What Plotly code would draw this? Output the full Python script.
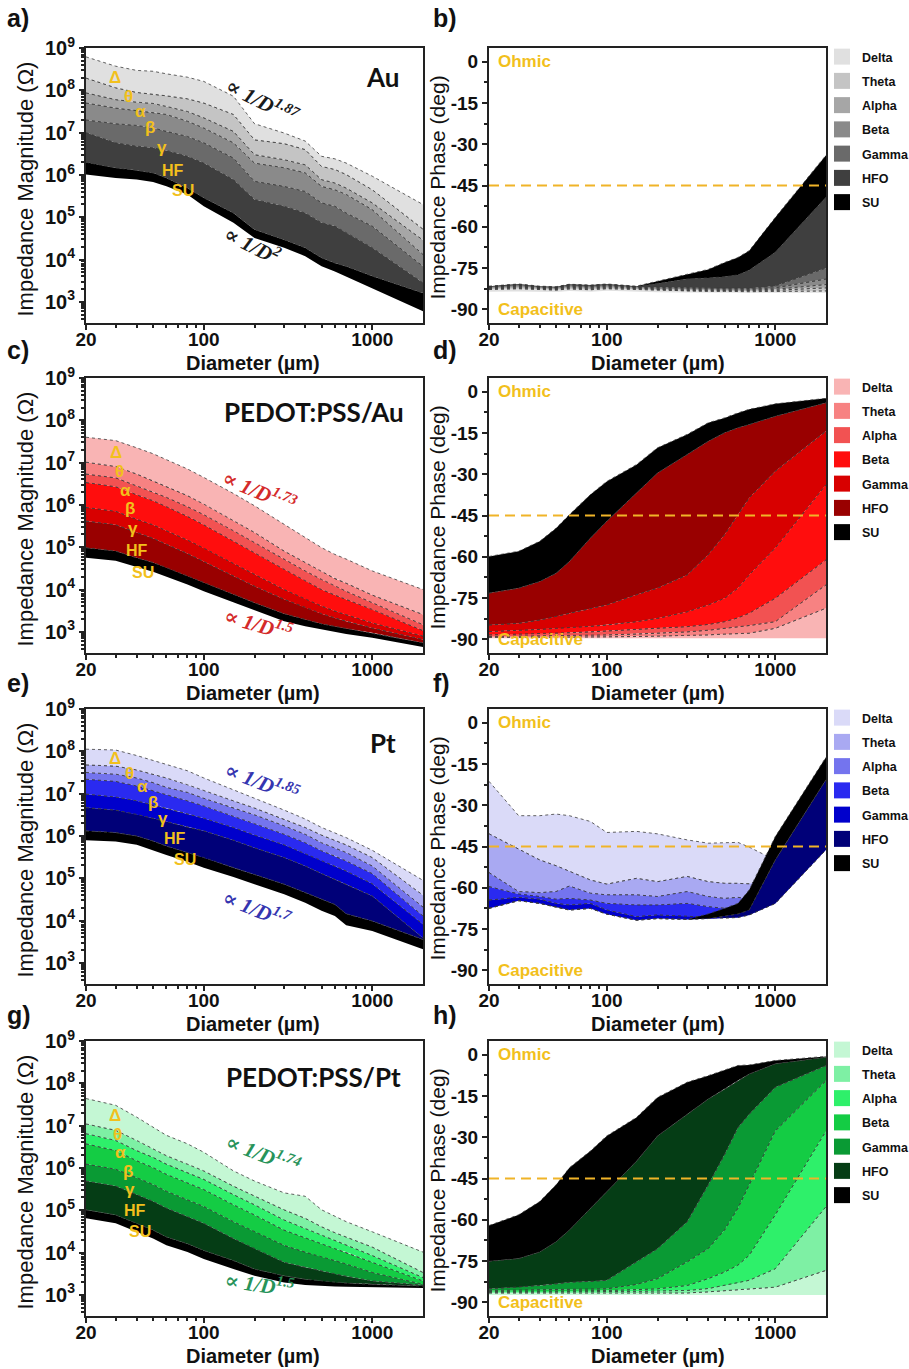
import numpy as np
import plotly.graph_objects as go

FIG_W, FIG_H = 909, 1369

# ---------------------------------------------------------------- data
diameter_um = [20, 30, 40, 50, 60, 80, 100, 150, 200, 300, 400, 500, 600, 700, 1000, 2000]
band_names = ["Delta", "Theta", "Alpha", "Beta", "Gamma", "HFO", "SU"]
band_tags = ["Δ", "θ", "α", "β", "γ", "HF", "SU"]

# Au : log10 |Z| (Ω)
au_logz_delta = [8.79, 8.57, 8.47, 8.45, 8.39, 8.31, 8.21, 7.86, 7.21, 6.99, 6.80, 6.44, 6.38, 6.28, 5.97, 5.30]
au_logz_theta = [8.29, 8.06, 7.95, 7.91, 7.87, 7.80, 7.70, 7.43, 6.83, 6.74, 6.60, 6.20, 6.13, 6.01, 5.65, 4.72]
au_logz_alpha = [7.94, 7.78, 7.72, 7.69, 7.62, 7.50, 7.35, 7.03, 6.48, 6.36, 6.24, 5.89, 5.81, 5.69, 5.34, 4.46]
au_logz_beta = [7.70, 7.58, 7.52, 7.48, 7.43, 7.27, 7.11, 6.76, 6.28, 6.17, 6.05, 5.73, 5.65, 5.54, 5.18, 4.12]
au_logz_gamma = [7.30, 7.21, 7.17, 7.11, 7.03, 6.91, 6.76, 6.40, 5.85, 5.73, 5.61, 5.34, 5.26, 5.10, 4.79, 3.84]
au_logz_hfo = [7.00, 6.76, 6.68, 6.64, 6.58, 6.44, 6.28, 5.89, 5.42, 5.26, 5.10, 4.87, 4.79, 4.63, 4.28, 3.45]
au_logz_su = [6.30, 6.17, 6.11, 6.05, 5.93, 5.69, 5.46, 5.10, 4.71, 4.47, 4.28, 4.04, 3.92, 3.84, 3.61, 3.21]
au_logz_base = [6.01, 5.93, 5.89, 5.83, 5.73, 5.54, 5.26, 4.87, 4.51, 4.28, 4.08, 3.84, 3.72, 3.60, 3.33, 2.78]

# Au : phase (deg)
au_phase_su = [-81.6, -80.8, -81.6, -81.8, -80.9, -81.2, -80.8, -81.6, -79.8, -77.3, -75.5, -73.0, -71.2, -68.7, -56.6, -34.0]
au_phase_hfo = [-81.8, -81.0, -81.8, -82.0, -81.1, -81.4, -81.0, -81.8, -80.6, -79.0, -78.6, -78.2, -77.5, -75.8, -69.3, -49.3]
au_phase_gamma = [-82.0, -81.3, -82.0, -82.2, -81.4, -81.7, -81.3, -82.0, -82.0, -82.2, -82.3, -82.3, -82.4, -82.4, -81.5, -75.0]
au_phase_beta = [-82.2, -81.6, -82.2, -82.4, -81.7, -82.0, -81.6, -82.2, -82.3, -82.5, -82.6, -82.6, -82.7, -82.7, -82.2, -79.0]
au_phase_alpha = [-82.4, -81.9, -82.4, -82.6, -82.0, -82.3, -81.9, -82.4, -82.6, -82.8, -82.9, -82.9, -83.0, -83.0, -82.7, -81.0]
au_phase_theta = [-82.6, -82.2, -82.6, -82.8, -82.3, -82.6, -82.2, -82.6, -82.9, -83.1, -83.2, -83.2, -83.3, -83.3, -83.1, -82.2]
au_phase_delta = [-82.8, -82.5, -82.8, -83.0, -82.6, -82.9, -82.5, -82.8, -83.2, -83.4, -83.5, -83.5, -83.6, -83.6, -83.5, -83.3]
au_phase_base = [-83.6, -83.5, -83.6, -83.7, -83.4, -83.6, -83.3, -83.5, -83.8, -83.9, -84.0, -84.0, -84.1, -84.1, -84.0, -84.0]

# PEDOT:PSS/Au : log10 |Z| (Ω)
pau_logz_delta = [7.60, 7.52, 7.35, 7.21, 7.07, 6.85, 6.65, 6.27, 5.98, 5.53, 5.23, 4.99, 4.83, 4.72, 4.44, 4.00]
pau_logz_theta = [7.01, 6.91, 6.73, 6.57, 6.44, 6.22, 6.02, 5.62, 5.35, 4.91, 4.64, 4.42, 4.26, 4.15, 3.87, 3.41]
pau_logz_alpha = [6.73, 6.64, 6.45, 6.31, 6.18, 5.96, 5.77, 5.39, 5.11, 4.72, 4.44, 4.24, 4.08, 3.96, 3.69, 3.17]
pau_logz_beta = [6.53, 6.43, 6.24, 6.10, 5.96, 5.73, 5.53, 5.15, 4.87, 4.48, 4.20, 4.00, 3.87, 3.77, 3.53, 3.03]
pau_logz_gamma = [5.94, 5.85, 5.66, 5.53, 5.39, 5.17, 4.98, 4.61, 4.36, 4.00, 3.77, 3.61, 3.49, 3.40, 3.21, 2.90]
pau_logz_hfo = [5.62, 5.53, 5.35, 5.21, 5.07, 4.85, 4.66, 4.32, 4.08, 3.77, 3.57, 3.43, 3.33, 3.25, 3.09, 2.82]
pau_logz_su = [4.99, 4.91, 4.75, 4.64, 4.52, 4.32, 4.16, 3.89, 3.69, 3.43, 3.29, 3.19, 3.13, 3.08, 2.98, 2.74]
pau_logz_base = [4.75, 4.68, 4.53, 4.42, 4.30, 4.12, 3.96, 3.69, 3.51, 3.25, 3.13, 3.05, 3.00, 2.95, 2.86, 2.64]

# PEDOT:PSS/Au : phase (deg)
pau_phase_su = [-59.9, -58.0, -54.4, -49.6, -44.7, -37.4, -32.6, -26.5, -20.4, -15.5, -11.3, -9.5, -7.7, -6.4, -4.4, -2.4]
pau_phase_hfo = [-73.2, -71.4, -69.0, -66.0, -61.7, -53.2, -47.1, -36.8, -29.5, -22.8, -18.0, -14.9, -13.1, -11.9, -8.9, -4.0]
pau_phase_gamma = [-84.8, -84.2, -83.0, -81.7, -80.5, -78.7, -77.5, -73.8, -71.4, -66.6, -59.3, -52.0, -44.7, -38.6, -28.9, -14.3]
pau_phase_beta = [-87.2, -86.8, -86.4, -86.0, -85.8, -85.3, -84.8, -83.6, -82.4, -80.0, -77.5, -75.1, -71.4, -66.6, -56.8, -33.8]
pau_phase_alpha = [-88.4, -88.2, -88.0, -87.8, -87.6, -87.3, -87.0, -86.4, -86.0, -85.4, -84.6, -83.6, -82.2, -80.5, -75.1, -61.1]
pau_phase_theta = [-89.0, -88.9, -88.8, -88.7, -88.6, -88.5, -88.4, -88.1, -87.8, -87.3, -86.7, -86.0, -85.5, -85.0, -83.6, -70.2]
pau_phase_delta = [-89.3, -89.3, -89.2, -89.2, -89.2, -89.1, -89.1, -89.0, -88.9, -88.7, -88.4, -88.1, -87.9, -87.8, -86.0, -78.7]
pau_phase_base = [-89.6, -89.6, -89.6, -89.6, -89.6, -89.6, -89.6, -89.6, -89.6, -89.6, -89.6, -89.6, -89.6, -89.6, -89.6, -89.6]

# Pt : log10 |Z| (Ω)
pt_logz_delta = [8.05, 8.03, 7.90, 7.78, 7.70, 7.54, 7.37, 7.08, 6.89, 6.61, 6.40, 6.20, 6.08, 5.96, 5.66, 4.95]
pt_logz_theta = [7.68, 7.65, 7.56, 7.46, 7.37, 7.21, 7.07, 6.83, 6.66, 6.40, 6.20, 6.02, 5.90, 5.79, 5.49, 4.60]
pt_logz_alpha = [7.50, 7.46, 7.37, 7.26, 7.15, 7.03, 6.89, 6.67, 6.50, 6.24, 6.04, 5.84, 5.72, 5.61, 5.29, 4.32]
pt_logz_beta = [7.34, 7.29, 7.18, 7.07, 6.97, 6.83, 6.71, 6.47, 6.29, 6.04, 5.84, 5.65, 5.53, 5.41, 5.11, 4.11]
pt_logz_gamma = [6.99, 6.92, 6.83, 6.73, 6.66, 6.53, 6.42, 6.20, 6.02, 5.79, 5.58, 5.41, 5.29, 5.17, 4.87, 3.91]
pt_logz_hfo = [6.67, 6.61, 6.51, 6.42, 6.34, 6.21, 6.12, 5.90, 5.72, 5.49, 5.29, 5.11, 4.97, 4.86, 4.58, 3.59]
pt_logz_su = [6.12, 6.08, 6.00, 5.88, 5.76, 5.61, 5.49, 5.25, 5.09, 4.86, 4.66, 4.50, 4.38, 4.16, 3.99, 3.55]
pt_logz_base = [5.90, 5.87, 5.79, 5.66, 5.55, 5.39, 5.25, 5.03, 4.86, 4.62, 4.42, 4.23, 4.11, 3.89, 3.75, 3.32]

# Pt : phase (deg)
pt_phase_su = [-67.5, -64.7, -65.7, -66.9, -68.1, -67.5, -69.6, -71.8, -71.2, -71.5, -69.5, -67.5, -65.7, -60.8, -41.4, -12.5]
pt_phase_hfo = [-67.5, -64.7, -65.7, -66.9, -68.1, -67.5, -69.6, -71.8, -71.2, -71.5, -71.2, -70.3, -69.5, -68.1, -49.9, -20.7]
pt_phase_gamma = [-64.5, -63.5, -64.2, -65.7, -66.3, -65.7, -68.1, -70.5, -69.9, -70.5, -70.8, -71.0, -70.8, -69.9, -65.7, -46.2]
pt_phase_beta = [-59.6, -62.3, -63.2, -64.2, -63.9, -64.5, -65.7, -66.3, -66.3, -65.7, -66.9, -67.5, -67.5, -67.8, -61.0, -42.0]
pt_phase_alpha = [-54.5, -61.4, -61.8, -61.4, -59.4, -62.0, -62.6, -62.6, -63.2, -61.4, -63.2, -63.9, -63.5, -64.0, -58.0, -38.0]
pt_phase_theta = [-40.4, -46.0, -49.9, -52.0, -54.1, -57.2, -58.7, -56.6, -57.8, -55.9, -57.8, -58.4, -58.4, -58.6, -55.0, -35.0]
pt_phase_delta = [-21.3, -33.8, -33.8, -33.2, -33.8, -35.9, -39.9, -39.5, -40.4, -42.6, -43.8, -43.5, -43.5, -45.2, -50.0, -30.0]
pt_phase_base = None

# PEDOT:PSS/Pt : log10 |Z| (Ω)
ppt_logz_delta = [7.64, 7.48, 7.20, 6.96, 6.77, 6.57, 6.37, 5.93, 5.69, 5.41, 5.33, 5.01, 4.85, 4.73, 4.49, 4.01]
ppt_logz_theta = [7.04, 6.89, 6.65, 6.45, 6.29, 6.09, 5.93, 5.57, 5.33, 5.01, 4.81, 4.61, 4.47, 4.37, 4.13, 3.53]
ppt_logz_alpha = [6.81, 6.65, 6.41, 6.25, 6.09, 5.89, 5.73, 5.37, 5.13, 4.77, 4.57, 4.41, 4.29, 4.19, 3.93, 3.41]
ppt_logz_beta = [6.57, 6.41, 6.17, 6.01, 5.85, 5.65, 5.49, 5.13, 4.89, 4.53, 4.35, 4.21, 4.09, 4.01, 3.77, 3.33]
ppt_logz_gamma = [6.09, 5.97, 5.77, 5.61, 5.45, 5.25, 5.09, 4.73, 4.49, 4.17, 4.01, 3.89, 3.81, 3.73, 3.53, 3.25]
ppt_logz_hfo = [5.69, 5.57, 5.37, 5.21, 5.05, 4.85, 4.69, 4.33, 4.09, 3.77, 3.65, 3.57, 3.49, 3.44, 3.33, 3.23]
ppt_logz_su = [5.01, 4.89, 4.69, 4.53, 4.37, 4.21, 4.05, 3.81, 3.61, 3.45, 3.37, 3.33, 3.29, 3.28, 3.25, 3.21]
ppt_logz_base = [4.81, 4.69, 4.49, 4.33, 4.17, 4.01, 3.85, 3.61, 3.45, 3.29, 3.23, 3.21, 3.20, 3.19, 3.17, 3.16]

# PEDOT:PSS/Pt : phase (deg)
ppt_phase_su = [-62.1, -58.2, -53.4, -47.3, -41.1, -35.0, -29.5, -22.8, -15.5, -10.0, -7.6, -5.5, -3.9, -3.7, -2.1, -0.6]
ppt_phase_hfo = [-75.1, -74.1, -71.7, -68.0, -63.7, -55.8, -49.7, -38.7, -29.5, -21.6, -16.1, -12.5, -9.4, -7.0, -3.3, -0.9]
ppt_phase_gamma = [-85.1, -84.5, -83.9, -83.3, -82.7, -82.4, -82.0, -75.3, -70.5, -60.7, -47.3, -36.3, -26.5, -21.6, -11.8, -3.9]
ppt_phase_beta = [-85.7, -85.6, -85.5, -85.4, -85.3, -85.2, -85.1, -83.5, -81.4, -75.3, -70.5, -63.7, -55.8, -47.3, -27.7, -9.4]
ppt_phase_alpha = [-86.1, -86.0, -86.0, -85.9, -85.9, -85.8, -85.7, -85.4, -85.1, -83.9, -81.4, -79.0, -76.5, -72.9, -58.2, -27.7]
ppt_phase_theta = [-86.3, -86.3, -86.3, -86.2, -86.2, -86.2, -86.1, -86.0, -85.9, -85.7, -85.0, -83.9, -83.0, -82.0, -77.8, -55.2]
ppt_phase_delta = [-86.6, -86.6, -86.6, -86.6, -86.6, -86.6, -86.6, -86.6, -86.6, -86.6, -86.2, -85.8, -85.5, -85.1, -84.5, -78.4]
ppt_phase_base = [-87.4, -87.4, -87.4, -87.4, -87.4, -87.4, -87.4, -87.4, -87.4, -87.4, -87.4, -87.4, -87.4, -87.4, -87.4, -87.4]

PHASE_THRESHOLD = -45
phase_ticks = [0, -15, -30, -45, -60, -75, -90]

# band palettes, Delta -> SU
grey_colors = ["#e0e0e0", "#c4c4c4", "#a6a6a6", "#8a8a8a", "#6a6a6a", "#3f3f3f", "#000000"]
red_colors = ["#f9b4b4", "#f78282", "#f25252", "#ff0d0d", "#d80000", "#990000", "#000000"]
blue_colors = ["#dadaf8", "#a9a9f2", "#7474ee", "#2a2af0", "#0000cc", "#000078", "#000000"]
green_colors = ["#c4f7d4", "#7ef0a4", "#2ef06a", "#14cc44", "#0a9a34", "#053d15", "#000000"]

rows = [
    dict(sample="Au", colors=grey_colors, slope_color="#1a1a1a", slope_hi="1.87", slope_lo="2",
         logz=[au_logz_delta, au_logz_theta, au_logz_alpha, au_logz_beta, au_logz_gamma, au_logz_hfo, au_logz_su],
         logz_base=au_logz_base,
         phase=[au_phase_delta, au_phase_theta, au_phase_alpha, au_phase_beta, au_phase_gamma, au_phase_hfo, au_phase_su],
         phase_base=au_phase_base),
    dict(sample="PEDOT:PSS/Au", colors=red_colors, slope_color="#d42a2a", slope_hi="1.73", slope_lo="1.5",
         logz=[pau_logz_delta, pau_logz_theta, pau_logz_alpha, pau_logz_beta, pau_logz_gamma, pau_logz_hfo, pau_logz_su],
         logz_base=pau_logz_base,
         phase=[pau_phase_delta, pau_phase_theta, pau_phase_alpha, pau_phase_beta, pau_phase_gamma, pau_phase_hfo, pau_phase_su],
         phase_base=pau_phase_base),
    dict(sample="Pt", colors=blue_colors, slope_color="#3535b0", slope_hi="1.85", slope_lo="1.7",
         logz=[pt_logz_delta, pt_logz_theta, pt_logz_alpha, pt_logz_beta, pt_logz_gamma, pt_logz_hfo, pt_logz_su],
         logz_base=pt_logz_base,
         phase=[pt_phase_delta, pt_phase_theta, pt_phase_alpha, pt_phase_beta, pt_phase_gamma, pt_phase_hfo, pt_phase_su],
         phase_base=pt_phase_base),
    dict(sample="PEDOT:PSS/Pt", colors=green_colors, slope_color="#27935a", slope_hi="1.74", slope_lo="1.5",
         logz=[ppt_logz_delta, ppt_logz_theta, ppt_logz_alpha, ppt_logz_beta, ppt_logz_gamma, ppt_logz_hfo, ppt_logz_su],
         logz_base=ppt_logz_base,
         phase=[ppt_phase_delta, ppt_phase_theta, ppt_phase_alpha, ppt_phase_beta, ppt_phase_gamma, ppt_phase_hfo, ppt_phase_su],
         phase_base=ppt_phase_base),
]

# ---------------------------------------------------------------- page geometry (px)
PLOT_TOP = [48, 378, 709, 1041]
PLOT_H = 275
MAG_X = (86, 423)
PH_X = (489, 826)
PANEL_LABEL_Y = [18, 350, 683, 1015]
SAMPLE_POS = [(382, 77), (314, 412), (383, 743), (313, 1077)]
SLOPE_HI_POS = [(262, 100, 27), (259, 491, 23), (262, 781, 21), (263, 1153, 21)]
SLOPE_LO_POS = [(252, 245, 27), (258, 623, 16), (257, 908, 22), (259, 1283, 8)]
TAG_POS = [
    [(115, 77), (128, 97), (140, 111), (150, 128), (162, 147), (173, 170), (183, 190)],
    [(116, 452), (119, 472), (125, 491), (130, 509), (133, 528), (137, 551), (143, 572)],
    [(115, 758), (129, 773), (142, 786), (153, 802), (163, 818), (175, 838), (185, 859)],
    [(115, 1115), (117, 1134), (121, 1152), (128, 1171), (130, 1189), (135, 1210), (140, 1231)],
]

GOLD = "#f2c01c"
INK = "#111111"
SANS = "Liberation Sans, Arial, sans-serif"


def px_x(p):
    return p / FIG_W


def px_y(p):
    return 1 - p / FIG_H


def axis_key(kind, i):
    return kind + ("" if i == 1 else str(i))


def axis_ref(kind, i):
    return kind[0] + ("" if i == 1 else str(i))


fig = go.Figure()
D = np.array(diameter_um, dtype=float)
x_poly = np.concatenate([D, D[::-1]])


def add_bands(curves, base, colors, to_y, xr, yr):
    """Fill between neighbouring curves (highest first) with the colour of
    whichever curve lies above; the last curve closes onto `base`."""
    levels = [np.asarray(c, dtype=float) for c in curves]
    pairs = [(levels[k], levels[k + 1], colors[k], colors[k + 1], True) for k in range(len(levels) - 1)]
    if base is not None:
        pairs.append((levels[-1], np.asarray(base, dtype=float), colors[-1], colors[-1], False))
    for hi, lo, c_hi, c_lo, lo_is_curve in reversed(pairs):
        inner = np.minimum(hi, lo)
        for edge, col in ((hi, c_hi), (lo, c_lo)):
            if not np.any(edge > inner + 1e-9):
                continue
            fig.add_trace(go.Scatter(
                x=x_poly, y=to_y(np.concatenate([edge, inner[::-1]])),
                mode="lines", fill="toself", fillcolor=col, line=dict(width=0),
                hoverinfo="skip", showlegend=False, xaxis=xr, yaxis=yr))
        edges = [hi, lo] if lo_is_curve else [hi]
        for edge in edges:
            fig.add_trace(go.Scatter(
                x=D, y=to_y(edge), mode="lines",
                line=dict(color="#3a3a3a", width=0.8, dash="dot"),
                hoverinfo="skip", showlegend=False, xaxis=xr, yaxis=yr))


layout = dict(
    width=FIG_W, height=FIG_H, margin=dict(l=0, r=0, t=0, b=0, autoexpand=False),
    paper_bgcolor="white", plot_bgcolor="white",
    font=dict(family=SANS, color=INK),
    showlegend=True,
)
annotations = []
shapes = []

common_axis = dict(showline=True, linecolor="#222222", linewidth=2, mirror=True,
                   ticks="outside", ticklen=5, tickwidth=1.5, tickcolor="#222222",
                   showgrid=False, zeroline=False, automargin=False)
x_minor = [30, 40, 50, 60, 70, 80, 90, 200, 300, 400, 500, 600, 700, 800, 900]
y_minor = [m * 10.0 ** e for e in range(2, 9) for m in range(2, 10) if 10 ** 2.5 <= m * 10.0 ** e <= 1e9]


def text_note(text, x, y, size, weight="normal", color=INK, angle=0, family=SANS,
              xanchor="center", yanchor="middle", style="normal"):
    annotations.append(dict(
        text=text, x=px_x(x), y=px_y(y), xref="paper", yref="paper",
        xanchor=xanchor, yanchor=yanchor, showarrow=False, textangle=angle,
        font=dict(family=family, size=size, weight=weight, color=color, style=style)))


for r, row in enumerate(rows):
    i_mag, i_ph = 2 * r + 1, 2 * r + 2
    top = PLOT_TOP[r]
    bottom = top + PLOT_H
    y_dom = [px_y(bottom), px_y(top)]
    colors = row["colors"]

    # ---- |Z| panel
    add_bands(row["logz"], row["logz_base"], colors, lambda v: 10.0 ** v,
              axis_ref("x", i_mag), axis_ref("y", i_mag))
    # ---- phase panel (SU on top, Delta at the bottom)
    add_bands(row["phase"][::-1], row["phase_base"], colors[::-1], lambda v: v,
              axis_ref("x", i_ph), axis_ref("y", i_ph))

    legend_id = "legend" if r == 0 else f"legend{r + 1}"
    for name, col in zip(band_names, colors):
        fig.add_trace(go.Scatter(
            x=[None], y=[None], mode="markers", name=name,
            marker=dict(symbol="square", size=16, color=col, line=dict(width=0)),
            legend=legend_id, legendgroup=f"{r}-{name}",
            xaxis=axis_ref("x", i_ph), yaxis=axis_ref("y", i_ph)))
    layout[legend_id] = dict(
        x=px_x(822), xanchor="left", y=px_y(top - 6), yanchor="top",
        bgcolor="rgba(0,0,0,0)", tracegroupgap=5, itemwidth=30,
        font=dict(family=SANS, size=12.5, weight="bold", color=INK))

    x_common = dict(common_axis, type="log", range=[np.log10(20), np.log10(2000)],
                    tickvals=[20, 100, 1000], ticktext=["20", "100", "1000"],
                    ticklabelstandoff=-7,
                    tickfont=dict(family=SANS, size=19, weight="bold", color=INK),
                    minor=dict(tickvals=x_minor, ticks="outside", ticklen=3, tickcolor="#222222"))
    layout[axis_key("xaxis", i_mag)] = dict(x_common, domain=[px_x(MAG_X[0]), px_x(MAG_X[1])],
                                            anchor=axis_ref("y", i_mag))
    layout[axis_key("xaxis", i_ph)] = dict(x_common, domain=[px_x(PH_X[0]), px_x(PH_X[1])],
                                           anchor=axis_ref("y", i_ph))

    layout[axis_key("yaxis", i_mag)] = dict(
        common_axis, type="log", range=[2.5, 9], domain=y_dom, anchor=axis_ref("x", i_mag),
        tickvals=[10.0 ** e for e in range(3, 10)],
        ticktext=[f"10<sup>{e}</sup>" for e in range(3, 10)],
        tickfont=dict(family=SANS, size=20, weight="bold", color=INK),
        minor=dict(tickvals=y_minor, ticks="outside", ticklen=3, tickcolor="#222222"))
    layout[axis_key("yaxis", i_ph)] = dict(
        common_axis, range=[-95, 5], domain=y_dom, anchor=axis_ref("x", i_ph),
        tickvals=phase_ticks, ticktext=[str(t) for t in phase_ticks],
        tickfont=dict(family=SANS, size=19, weight="bold", color=INK),
        minor=dict(dtick=7.5, tick0=0, ticks="outside", ticklen=3, tickcolor="#222222"))

    # axis titles
    mid_y = top + PLOT_H / 2
    text_note("Impedance Magnitude (Ω)", 25, mid_y + 4, 22, angle=-90)
    text_note("Impedance Phase (deg)", 437, mid_y + 2, 21, angle=-90)
    text_note("Diameter (µm)", (MAG_X[0] + MAG_X[1]) / 2 - 2, bottom + 40, 20, weight="bold")
    text_note("Diameter (µm)", (PH_X[0] + PH_X[1]) / 2, bottom + 40, 20, weight="bold")

    # -45° reference line
    shapes.append(dict(type="line", xref=f"{axis_ref('x', i_ph)} domain", x0=0, x1=1,
                       yref=axis_ref("y", i_ph), y0=PHASE_THRESHOLD, y1=PHASE_THRESHOLD,
                       line=dict(color="#f0b428", width=2, dash="10px,6px")))
    for txt, yv in (("Ohmic", 0), ("Capacitive", -90)):
        annotations.append(dict(text=txt, xref=f"{axis_ref('x', i_ph)} domain", x=0.02,
                                yref=axis_ref("y", i_ph), y=yv, xanchor="left", yanchor="middle",
                                showarrow=False,
                                font=dict(family=SANS, size=17, weight="bold", color=GOLD)))

    # panel letters
    letters = "abcdefgh"
    text_note(f"{letters[2 * r]})", 5, PANEL_LABEL_Y[r], 25, weight="bold", xanchor="left")
    text_note(f"{letters[2 * r + 1]})", 431, PANEL_LABEL_Y[r], 25, weight="bold", xanchor="left")

    # sample name
    sx, sy = SAMPLE_POS[r]
    text_note(row["sample"], sx, sy, 26, weight="bold", family="Lato, Open Sans, sans-serif")

    # power-law slopes
    for (tx, ty, ang), expo in ((SLOPE_HI_POS[r], row["slope_hi"]), (SLOPE_LO_POS[r], row["slope_lo"])):
        text_note(f"∝ 1/<i>D</i><sup>{expo}</sup>", tx, ty, 21, weight="bold", angle=ang,
                  color=row["slope_color"], family="Liberation Serif, DejaVu Serif, serif",
                  style="italic")

    # band tags next to the curves
    for tag, (gx, gy) in zip(band_tags, TAG_POS[r]):
        text_note(tag, gx, gy, 17 if len(tag) == 1 else 16, weight="bold", color=GOLD)

layout["annotations"] = annotations
layout["shapes"] = shapes
fig.update_layout(**layout)
fig.write_html("out.html")
